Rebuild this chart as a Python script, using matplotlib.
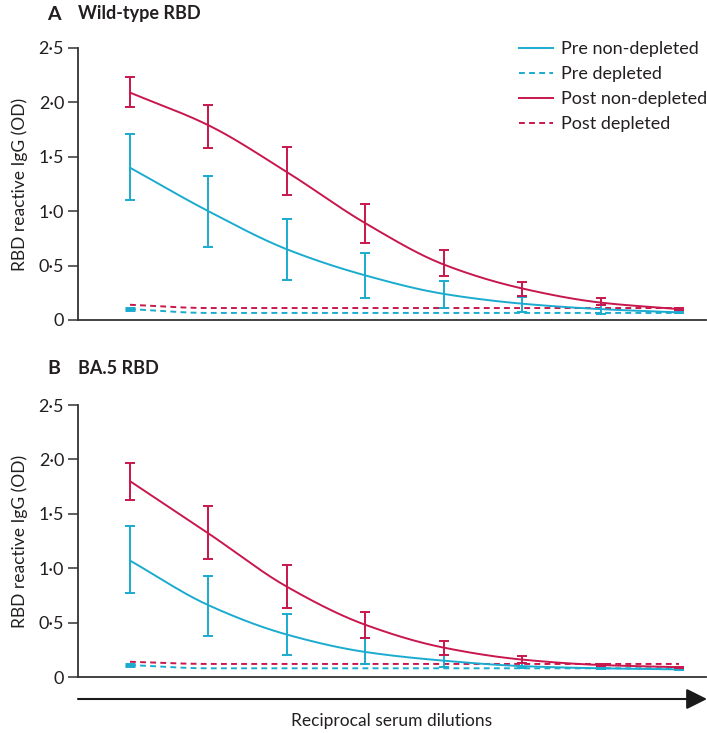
import numpy as np
import matplotlib
matplotlib.use("Agg")
import matplotlib.pyplot as plt

# ---------------- data ----------------
dilution_step = [1, 2, 3, 4, 5, 6, 7, 8]
yticks = [0, 0.5, 1.0, 1.5, 2.0, 2.5]
ytick_labels = ["0", "0·5", "1·0", "1·5", "2·0", "2·5"]
series_labels = ["Pre non-depleted", "Pre depleted", "Post non-depleted", "Post depleted"]

# Panel A: wild-type RBD
a_pre_nd = [1.40, 1.00, 0.65, 0.41, 0.24, 0.15, 0.10, 0.07]
a_pre_nd_lo = [1.10, 0.67, 0.37, 0.20, 0.11, 0.07, 0.055, 0.06]
a_pre_nd_hi = [1.71, 1.32, 0.93, 0.62, 0.36, 0.21, 0.14, 0.085]
a_post_nd = [2.09, 1.79, 1.36, 0.89, 0.51, 0.29, 0.16, 0.10]
a_post_nd_lo = [1.96, 1.58, 1.15, 0.71, 0.40, 0.22, 0.14, 0.09]
a_post_nd_hi = [2.23, 1.98, 1.59, 1.07, 0.64, 0.35, 0.20, 0.11]
a_pre_d = [0.10, 0.065, 0.065, 0.065, 0.065, 0.065, 0.065, 0.065]
a_pre_d_err = [0.012, 0, 0, 0, 0, 0, 0, 0]
a_post_d = [0.14, 0.11, 0.11, 0.11, 0.11, 0.11, 0.11, 0.11]
a_post_d_err = [0, 0, 0, 0, 0, 0, 0, 0]

# Panel B: BA.5 RBD
b_pre_nd = [1.07, 0.66, 0.39, 0.23, 0.15, 0.10, 0.08, 0.07]
b_pre_nd_lo = [0.77, 0.38, 0.20, 0.12, 0.09, 0.08, 0.07, 0.065]
b_pre_nd_hi = [1.39, 0.93, 0.58, 0.36, 0.20, 0.13, 0.09, 0.075]
b_post_nd = [1.80, 1.32, 0.83, 0.48, 0.27, 0.16, 0.11, 0.09]
b_post_nd_lo = [1.63, 1.08, 0.63, 0.36, 0.20, 0.13, 0.10, 0.085]
b_post_nd_hi = [1.97, 1.57, 1.03, 0.60, 0.33, 0.19, 0.12, 0.095]
b_pre_d = [0.11, 0.08, 0.08, 0.08, 0.08, 0.08, 0.08, 0.08]
b_pre_d_err = [0.012, 0, 0, 0, 0, 0, 0, 0]
b_post_d = [0.14, 0.12, 0.12, 0.12, 0.12, 0.12, 0.12, 0.12]
b_post_d_err = [0, 0, 0, 0, 0, 0, 0, 0]

CYAN = "#1aabcf"
RED = "#c8174c"
TXT = "#231f20"
AX = "#333333"

plt.rcParams['font.family'] = ['Lato', 'DejaVu Sans']


def smooth(x, y, n=200):
    """Monotone cubic Hermite (Fritsch–Carlson) for drawing a smooth line."""
    x = np.asarray(x, float)
    y = np.asarray(y, float)
    h = np.diff(x)
    d = np.diff(y) / h
    m = np.zeros_like(y)
    m[0] = d[0]
    m[-1] = d[-1]
    for i in range(1, len(y) - 1):
        if d[i - 1] * d[i] <= 0:
            m[i] = 0
        else:
            w1 = 2 * h[i] + h[i - 1]
            w2 = h[i] + 2 * h[i - 1]
            m[i] = (w1 + w2) / (w1 / d[i - 1] + w2 / d[i])
    xs = np.linspace(x[0], x[-1], n)
    idx = np.clip(np.searchsorted(x, xs) - 1, 0, len(x) - 2)
    t = (xs - x[idx]) / h[idx]
    h00 = 2 * t**3 - 3 * t**2 + 1
    h10 = t**3 - 2 * t**2 + t
    h01 = -2 * t**3 + 3 * t**2
    h11 = t**3 - t**2
    ys = h00 * y[idx] + h10 * h[idx] * m[idx] + h01 * y[idx + 1] + h11 * h[idx] * m[idx + 1]
    return xs, ys


fig = plt.figure(figsize=(7.07, 7.33), dpi=100)

W, H = 707.0, 733.0


def make_ax(top_px, bottom_px):
    left = 78 / W
    right = 706 / W
    return fig.add_axes([left, 1 - bottom_px / H, right - left, (bottom_px - top_px) / H])


axA = make_ax(48, 320)
axB = make_ax(405, 677)


def draw(ax, pre, pre_lo, pre_hi, post, post_lo, post_hi, pre_d, pre_d_err, post_d, post_d_err):
    x = np.array(dilution_step, float)
    lw = 1.4
    cap = 3.8
    # depleted (dashed)
    xs, ys = smooth(x, pre_d)
    l2, = ax.plot(xs, ys, color=CYAN, lw=lw, ls=(0, (3, 2.2)))
    e = np.array(pre_d_err)
    m = e > 0
    if m.any():
        ax.errorbar(x[m], np.array(pre_d)[m], yerr=e[m], fmt='none', ecolor=CYAN,
                    elinewidth=lw * 2, capsize=cap, capthick=lw * 1.5)
    xs, ys = smooth(x, post_d)
    l4, = ax.plot(xs, ys, color=RED, lw=lw, ls=(0, (3, 2.2)))
    e = np.array(post_d_err)
    m = e > 0
    if m.any():
        ax.errorbar(x[m], np.array(post_d)[m], yerr=e[m], fmt='none', ecolor=RED,
                    elinewidth=lw, capsize=cap, capthick=lw)
    # non-depleted
    xs, ys = smooth(x, pre)
    l1, = ax.plot(xs, ys, color=CYAN, lw=lw)
    pre_a = np.array(pre)
    ax.errorbar(x, pre, yerr=[pre_a - np.array(pre_lo), np.array(pre_hi) - pre_a], fmt='none',
                ecolor=CYAN, elinewidth=lw, capsize=cap, capthick=lw)
    xs, ys = smooth(x, post)
    l3, = ax.plot(xs, ys, color=RED, lw=lw)
    post_a = np.array(post)
    ax.errorbar(x, post, yerr=[post_a - np.array(post_lo), np.array(post_hi) - post_a], fmt='none',
                ecolor=RED, elinewidth=lw, capsize=cap, capthick=lw)

    # axes styling
    ax.set_xlim(1 - 52 / 78.43, 8 + 27 / 78.43)
    ax.set_ylim(0, 2.5)
    ax.set_yticks(yticks)
    ax.set_yticklabels(ytick_labels)
    ax.set_xticks([])
    for s in ['top', 'right']:
        ax.spines[s].set_visible(False)
    for s in ['left', 'bottom']:
        ax.spines[s].set_color(AX)
        ax.spines[s].set_linewidth(1.3)
    ax.tick_params(axis='y', length=7, width=1.1, color=AX, labelsize=13, labelcolor=TXT, pad=3)
    ax.set_ylabel("RBD reactive IgG (OD)", fontsize=12.5, color=TXT, labelpad=8)
    ax.patch.set_alpha(0)
    return [l1, l2, l3, l4]


handles = draw(axA, a_pre_nd, a_pre_nd_lo, a_pre_nd_hi, a_post_nd, a_post_nd_lo, a_post_nd_hi,
               a_pre_d, a_pre_d_err, a_post_d, a_post_d_err)
draw(axB, b_pre_nd, b_pre_nd_lo, b_pre_nd_hi, b_post_nd, b_post_nd_lo, b_post_nd_hi,
     b_pre_d, b_pre_d_err, b_post_d, b_post_d_err)

leg = axA.legend(handles, series_labels, loc='upper left', bbox_to_anchor=(519 / W, 1 - 41 / H),
                 bbox_transform=fig.transFigure, frameon=False, fontsize=13, handlelength=1.9,
                 handletextpad=0.45, labelspacing=0.5, borderpad=0, borderaxespad=0)
for t in leg.get_texts():
    t.set_color(TXT)

# panel titles
fig.text(47 / W, 1 - 14 / H, "A", fontsize=14, fontweight='bold', color=TXT, va='center', ha='left')
fig.text(78 / W, 1 - 14 / H, "Wild-type RBD", fontsize=13, fontweight='bold', color=TXT, va='center', ha='left')
fig.text(47 / W, 1 - 369 / H, "B", fontsize=14, fontweight='bold', color=TXT, va='center', ha='left')
fig.text(78 / W, 1 - 369 / H, "BA.5 RBD", fontsize=13, fontweight='bold', color=TXT, va='center', ha='left')

# arrow for dilution direction
fig.add_artist(matplotlib.patches.FancyArrowPatch(
    (78 / W, 1 - 699 / H), (707 / W, 1 - 699 / H), transform=fig.transFigure,
    arrowstyle='-|>,head_length=0.9,head_width=0.45', mutation_scale=14, color='#1a1a1a', lw=1.5,
    shrinkA=0, shrinkB=0))
fig.text(392 / W, 1 - 721 / H, "Reciprocal serum dilutions", fontsize=12.5, color=TXT, ha='center', va='center')

fig.savefig("out.png", dpi=100)
